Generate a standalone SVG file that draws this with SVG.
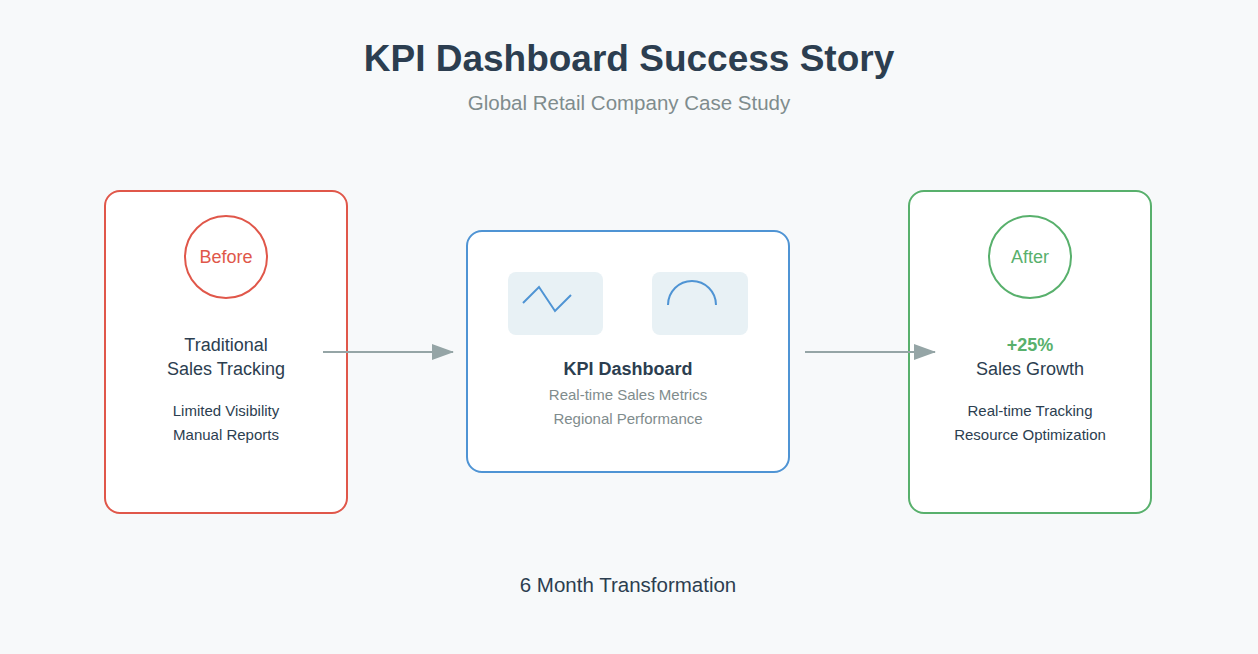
<svg xmlns="http://www.w3.org/2000/svg" width="1258" height="654" viewBox="0 0 1258 654">
<style>
text{font-family:"Helvetica","Liberation Sans",Arial,sans-serif;text-anchor:middle}
.box{fill:#fff;stroke-width:2}
.t{font-size:18px;fill:#2c3e50}
.s{font-size:15px;fill:#2c3e50}
.g{font-size:15px;fill:#7f8c8d}
.ic{fill:#e8f1f5}
.conn{stroke:#95a5a6;stroke-width:2;fill:none}
</style>
<defs><marker id="ah" markerWidth="22" markerHeight="16" refX="21" refY="8" orient="auto" markerUnits="userSpaceOnUse"><path d="M0,0L22,8L0,16z" fill="#95a5a6"/></marker></defs>
<rect width="1258" height="654" fill="#f7f9fa"/>
<text x="629" y="71" style="font-size:37px;font-weight:bold;fill:#2c3e50">KPI Dashboard Success Story</text>
<text x="629" y="110" style="font-size:20.5px;fill:#7f8c8d">Global Retail Company Case Study</text>
<g id="before">
<rect class="box" x="105" y="191" width="242" height="322" rx="15" stroke="#e0574a"/>
<circle cx="226" cy="257" r="41" fill="#fff" stroke="#e0574a" stroke-width="2"/>
<text x="226" y="263" style="font-size:18px;fill:#e0574a">Before</text>
<text class="t" x="226" y="351">Traditional</text>
<text class="t" x="226" y="375">Sales Tracking</text>
<text class="s" x="226" y="416">Limited Visibility</text>
<text class="s" x="226" y="440">Manual Reports</text>
</g>
<g id="dashboard">
<rect class="box" x="467" y="231" width="322" height="241" rx="15" stroke="#4f94d4"/>
<rect class="ic" x="508" y="272" width="95" height="63" rx="8"/>
<rect class="ic" x="652" y="272" width="96" height="63" rx="8"/>
<polyline points="523,303 539,287 555,311 571,295" fill="none" stroke="#4f94d4" stroke-width="2"/>
<path d="M668,305A24,24 0 0 1 716,305" fill="none" stroke="#4f94d4" stroke-width="2"/>
<text x="628" y="375" style="font-size:18px;font-weight:bold;fill:#2c3e50">KPI Dashboard</text>
<text class="g" x="628" y="400">Real-time Sales Metrics</text>
<text class="g" x="628" y="424">Regional Performance</text>
</g>
<g id="after">
<rect class="box" x="909" y="191" width="242" height="322" rx="15" stroke="#58b06c"/>
<circle cx="1030" cy="257" r="41" fill="#fff" stroke="#58b06c" stroke-width="2"/>
<text x="1030" y="263" style="font-size:18px;fill:#58b06c">After</text>
<text x="1030" y="351" style="font-size:18px;font-weight:bold;fill:#58b06c">+25%</text>
<text class="t" x="1030" y="375">Sales Growth</text>
<text class="s" x="1030" y="416">Real-time Tracking</text>
<text class="s" x="1030" y="440">Resource Optimization</text>
</g>
<g id="connectors">
<line class="conn" x1="323" y1="352" x2="453" y2="352" marker-end="url(#ah)"/>
<line class="conn" x1="805" y1="352" x2="935" y2="352" marker-end="url(#ah)"/>
</g>
<text x="628" y="592" style="font-size:20.5px;fill:#2c3e50">6 Month Transformation</text>
</svg>
